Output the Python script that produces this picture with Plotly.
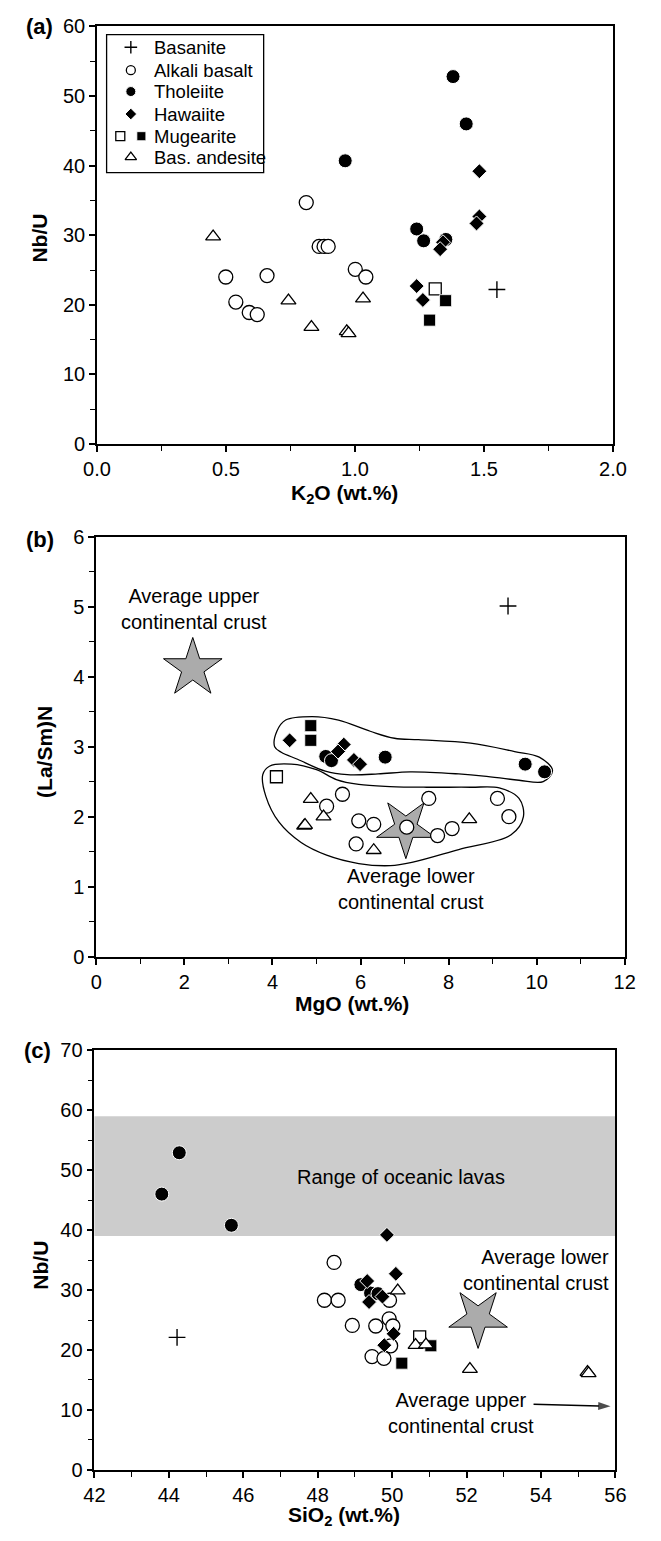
import plotly.graph_objects as go

W, H = 661, 1541

# ---------------- Panel (a): K2O vs Nb/U ----------------
A_BASANITE_X = [1.55]
A_BASANITE_Y = [22.2]
A_ALKALI_X = [0.811, 0.499, 0.538, 0.590, 0.621, 0.659, 0.861, 0.880, 0.896, 1.001, 1.042]
A_ALKALI_Y = [34.7, 24.0, 20.4, 18.9, 18.6, 24.2, 28.4, 28.4, 28.4, 25.1, 24.0]
A_THOL_X = [1.380, 1.431, 0.962, 1.239, 1.266, 1.352]
A_THOL_Y = [52.8, 46.0, 40.7, 30.9, 29.2, 29.4]
A_HAW_X = [1.482, 1.482, 1.471, 1.341, 1.330, 1.239, 1.263]
A_HAW_Y = [39.2, 32.7, 31.7, 29.0, 28.0, 22.7, 20.7]
A_MUG_OPEN_X = [1.311]
A_MUG_OPEN_Y = [22.3]
A_MUG_FILL_X = [1.351, 1.289]
A_MUG_FILL_Y = [20.6, 17.8]
A_BASAND_X = [0.450, 0.742, 0.831, 0.968, 0.975, 1.031]
A_BASAND_Y = [29.8, 20.6, 16.8, 16.2, 15.9, 20.9]

# ---------------- Panel (b): MgO vs (La/Sm)N ----------------
B_BASANITE_X = [9.35]
B_BASANITE_Y = [5.01]
B_ALKALI_X = [5.23, 5.59, 5.96, 5.90, 6.30, 7.05, 7.55, 7.75, 8.08, 9.11, 9.37]
B_ALKALI_Y = [2.15, 2.32, 1.94, 1.61, 1.89, 1.85, 2.26, 1.73, 1.83, 2.26, 2.00]
B_THOL_X = [5.21, 5.34, 6.56, 9.74, 10.18]
B_THOL_Y = [2.86, 2.80, 2.85, 2.75, 2.64]
B_HAW_X = [4.39, 5.62, 5.49, 5.85, 5.99]
B_HAW_Y = [3.09, 3.03, 2.93, 2.81, 2.75]
B_MUG_OPEN_X = [4.09]
B_MUG_OPEN_Y = [2.57]
B_MUG_FILL_X = [4.87, 4.87]
B_MUG_FILL_Y = [3.30, 3.09]
B_BASAND_X = [4.87, 5.16, 4.72, 4.74, 6.30, 8.47]
B_BASAND_Y = [2.25, 2.00, 1.87, 1.88, 1.52, 1.96]
B_UPPER_CRUST = (2.19, 4.12)
B_LOWER_CRUST = (7.03, 1.84)
# grouping outlines
B_LOOP1_X = [4.05, 4.10, 4.30, 4.90, 5.50, 6.22, 6.77, 7.32, 8.50, 9.50, 10.06, 10.36,
             10.15, 9.60, 8.80, 8.23, 7.13, 6.40, 5.70, 5.20, 4.57, 4.20, 4.05]
B_LOOP1_Y = [3.00, 3.22, 3.38, 3.43, 3.38, 3.22, 3.12, 3.10, 3.05, 2.93, 2.85, 2.66,
             2.50, 2.52, 2.58, 2.61, 2.64, 2.61, 2.60, 2.65, 2.82, 2.92, 3.00]
B_LOOP2_X = [3.93, 4.43, 5.00, 5.45, 5.96, 6.67, 7.50, 8.50, 9.15, 9.60, 9.70, 9.42,
             8.23, 7.19, 6.68, 5.96, 5.23, 4.65, 4.15, 3.85, 3.78, 3.93]
B_LOOP2_Y = [2.72, 2.75, 2.67, 2.53, 2.46, 2.43, 2.42, 2.42, 2.41, 2.26, 2.00, 1.74,
             1.53, 1.35, 1.30, 1.33, 1.45, 1.63, 1.92, 2.29, 2.60, 2.72]

# ---------------- Panel (c): SiO2 vs Nb/U ----------------
C_BASANITE_X = [44.22]
C_BASANITE_Y = [22.1]
C_ALKALI_X = [48.44, 48.18, 48.55, 49.93, 48.93, 49.56, 49.92, 50.02, 49.96, 49.46, 49.78]
C_ALKALI_Y = [34.6, 28.3, 28.3, 28.3, 24.1, 24.0, 25.2, 24.0, 20.7, 18.9, 18.6]
C_THOL_X = [44.28, 43.81, 45.68, 49.16, 49.42, 49.62]
C_THOL_Y = [52.9, 46.0, 40.8, 30.9, 29.5, 29.4]
C_HAW_X = [49.86, 50.10, 49.33, 49.74, 49.38, 50.04, 49.79]
C_HAW_Y = [39.2, 32.7, 31.5, 28.9, 28.0, 22.7, 20.8]
C_MUG_OPEN_X = [50.74]
C_MUG_OPEN_Y = [22.2]
C_MUG_FILL_X = [51.04, 50.26]
C_MUG_FILL_Y = [20.7, 17.8]
C_BASAND_X = [50.15, 50.63, 50.91, 52.09, 55.25, 55.28]
C_BASAND_Y = [29.9, 20.8, 20.9, 16.8, 16.3, 16.1]
C_LOWER_CRUST = (52.31, 25.4)
C_OCEANIC_RANGE = (39.0, 59.0)
C_ARROW_X = [53.80, 55.87]
C_ARROW_Y = [10.96, 10.60]

LEGEND_LABELS = ["Basanite", "Alkali basalt", "Tholeiite", "Hawaiite", "Mugearite", "Bas. andesite"]

FONT = "Liberation Sans, Arial, Helvetica, sans-serif"
TICK_SIZE = 20
TITLE_SIZE = 21
NOTE_SIZE = 20

def py(px):
    return (H - px) / H

def px_x(px):
    return px / W

# marker styles
STY = {
    "bas": dict(symbol="cross-thin", size=12, color="black", line=dict(color="black", width=1.4)),
    "alk": dict(symbol="circle", size=14, color="white", line=dict(color="black", width=1.3)),
    "thol": dict(symbol="circle", size=14, color="black", line=dict(color="white", width=1)),
    "haw": dict(symbol="diamond", size=11.5, color="black", line=dict(color="white", width=1)),
    "mugo": dict(symbol="square", size=12, color="white", line=dict(color="black", width=1.3)),
    "mugf": dict(symbol="square", size=12, color="black", line=dict(color="white", width=0.8)),
    "and": dict(symbol="triangle-up", size=13, color="white", line=dict(color="black", width=1.3)),
}

fig = go.Figure()

def add_pts(xs, ys, key, xa, ya):
    fig.add_trace(go.Scatter(x=xs, y=ys, mode="markers", marker=STY[key],
                             xaxis=xa, yaxis=ya, showlegend=False, hoverinfo="skip"))

def add_star(pt, angle, xa, ya):
    fig.add_trace(go.Scatter(x=[pt[0]], y=[pt[1]], mode="markers",
                             marker=dict(symbol="star", size=44, color="#ababab", angle=angle,
                                         line=dict(color="black", width=1)),
                             xaxis=xa, yaxis=ya, showlegend=False, hoverinfo="skip"))

# panel a
for xs, ys, k in [(A_BASANITE_X, A_BASANITE_Y, "bas"), (A_ALKALI_X, A_ALKALI_Y, "alk"),
                  (A_THOL_X, A_THOL_Y, "thol"), (A_HAW_X, A_HAW_Y, "haw"),
                  (A_MUG_OPEN_X, A_MUG_OPEN_Y, "mugo"), (A_MUG_FILL_X, A_MUG_FILL_Y, "mugf"),
                  (A_BASAND_X, A_BASAND_Y, "and")]:
    add_pts(xs, ys, k, "x", "y")

# panel b
add_star(B_UPPER_CRUST, 0, "x2", "y2")
add_star(B_LOWER_CRUST, 180, "x2", "y2")
for lx, ly in [(B_LOOP1_X, B_LOOP1_Y), (B_LOOP2_X, B_LOOP2_Y)]:
    fig.add_trace(go.Scatter(x=lx, y=ly, mode="lines",
                             line=dict(color="black", width=1.3, shape="spline", smoothing=1.0),
                             xaxis="x2", yaxis="y2", showlegend=False, hoverinfo="skip"))
for xs, ys, k in [(B_BASANITE_X, B_BASANITE_Y, "bas"), (B_ALKALI_X, B_ALKALI_Y, "alk"),
                  (B_THOL_X, B_THOL_Y, "thol"), (B_HAW_X, B_HAW_Y, "haw"),
                  (B_MUG_OPEN_X, B_MUG_OPEN_Y, "mugo"), (B_MUG_FILL_X, B_MUG_FILL_Y, "mugf"),
                  (B_BASAND_X, B_BASAND_Y, "and")]:
    add_pts(xs, ys, k, "x2", "y2")

# panel c
add_star(C_LOWER_CRUST, 180, "x3", "y3")
for xs, ys, k in [(C_BASANITE_X, C_BASANITE_Y, "bas"), (C_ALKALI_X, C_ALKALI_Y, "alk"),
                  (C_THOL_X, C_THOL_Y, "thol"), (C_HAW_X, C_HAW_Y, "haw"),
                  (C_MUG_OPEN_X, C_MUG_OPEN_Y, "mugo"), (C_MUG_FILL_X, C_MUG_FILL_Y, "mugf"),
                  (C_BASAND_X, C_BASAND_Y, "and")]:
    add_pts(xs, ys, k, "x3", "y3")
# arrow pointing to the (off-scale) upper continental crust
fig.add_trace(go.Scatter(x=C_ARROW_X, y=C_ARROW_Y, mode="lines+markers",
                         line=dict(color="black", width=1.5),
                         marker=dict(symbol=["circle", "arrow"], size=[0, 13], color="black",
                                     angleref="previous", line=dict(width=0)),
                         xaxis="x3", yaxis="y3", showlegend=False, hoverinfo="skip"))

# ---------------- legend (manual, pixel-unit overlay axis) ----------------
LEG_BOX = (96.7, 260.7, 24, 164)   # left, right, top, bottom in px
LEG_ROWS = [36.7, 60.0, 81.7, 104.5, 127.0, 148.3]
LEG_SYM_X = 122
LEG_KEYS = ["bas", "alk", "thol", "haw", "mugo", "and"]
for i, k in enumerate(LEG_KEYS):
    st = dict(STY[k])
    st["size"] = {"bas": 9, "alk": 9, "thol": 10, "haw": 9, "mugo": 9, "and": 10}[k]
    sx = [LEG_SYM_X] if k != "mugo" else [111]
    fig.add_trace(go.Scatter(x=sx, y=[LEG_ROWS[i]], mode="markers", marker=st,
                             xaxis="x4", yaxis="y4", showlegend=False, hoverinfo="skip"))
stf = dict(STY["mugf"]); stf["size"] = 9
fig.add_trace(go.Scatter(x=[133], y=[LEG_ROWS[4]], mode="markers", marker=stf,
                         xaxis="x4", yaxis="y4", showlegend=False, hoverinfo="skip"))

annotations = []
for i, lab in enumerate(LEGEND_LABELS):
    annotations.append(dict(x=144, y=LEG_ROWS[i], xref="x4", yref="y4", text=lab,
                            showarrow=False, xanchor="left", yanchor="middle",
                            font=dict(size=18.5, color="black")))

# ---------------- axes ----------------
def axis(domain, rng, dtick, minor, anchor, fmt=None):
    d = dict(domain=domain, range=rng, dtick=dtick, tick0=rng[0], showgrid=False, zeroline=False,
             showline=True, linecolor="black", linewidth=1.8, mirror=True,
             ticks="outside", ticklen=6, tickwidth=1.5, tickcolor="black",
             tickfont=dict(size=TICK_SIZE, color="black"), anchor=anchor,
             minor=dict(dtick=minor, ticks="outside", ticklen=5, tickwidth=1.3, tickcolor="black", showgrid=False))
    if fmt:
        d["tickformat"] = fmt
    return d

def inner_ticks(domain, rng, dtick, anchor, overlay):
    # inner half of the major ticks (the reference's major ticks cross the axis line)
    return dict(domain=domain, range=rng, dtick=dtick, tick0=rng[0], showgrid=False,
                zeroline=False, showline=False, ticks="inside", ticklen=6, tickwidth=1.5,
                tickcolor="black", showticklabels=False, anchor=anchor, overlaying=overlay)

A_DOM_X = [86.7 / W, 625.5 / W]
A_DOM_Y = [py(439.3), py(15.7)]
B_DOM_X = [86.0 / W, 637.7 / W]
B_DOM_Y = [py(959.3), py(533.3)]
C_DOM_X = [84.0 / W, 628.0 / W]
C_DOM_Y = [py(1480.0), py(1054.3)]

layout = dict(
    width=W, height=H, margin=dict(l=0, r=0, t=0, b=0),
    paper_bgcolor="white", plot_bgcolor="white",
    font=dict(family=FONT, color="black", size=18),
    xaxis=axis(A_DOM_X, [0, 2], 0.5, 0.25, "y", ".1f"),
    yaxis=axis(A_DOM_Y, [0, 60], 10, 5, "x"),
    xaxis2=axis(B_DOM_X, [0, 12], 2, 1, "y2"),
    yaxis2=axis(B_DOM_Y, [0, 6], 1, 0.5, "x2"),
    xaxis3=axis(C_DOM_X, [42, 56], 2, 1, "y3"),
    yaxis3=axis(C_DOM_Y, [0, 70], 10, 5, "x3"),
    xaxis4=dict(domain=[LEG_BOX[0] / W, LEG_BOX[1] / W], range=[LEG_BOX[0], LEG_BOX[1]],
                visible=False, anchor="y4"),
    yaxis4=dict(domain=[py(LEG_BOX[3]), py(LEG_BOX[2])], range=[LEG_BOX[3], LEG_BOX[2]],
                visible=False, anchor="x4"),
    xaxis5=inner_ticks(A_DOM_X, [0, 2], 0.5, "y", "x"),
    yaxis5=inner_ticks(A_DOM_Y, [0, 60], 10, "x", "y"),
    xaxis6=inner_ticks(B_DOM_X, [0, 12], 2, "y2", "x2"),
    yaxis6=inner_ticks(B_DOM_Y, [0, 6], 1, "x2", "y2"),
    xaxis7=inner_ticks(C_DOM_X, [42, 56], 2, "y3", "x3"),
    yaxis7=inner_ticks(C_DOM_Y, [0, 70], 10, "x3", "y3"),
    showlegend=False,
)

shapes = [
    dict(type="rect", xref="paper", yref="paper", x0=LEG_BOX[0] / W, x1=LEG_BOX[1] / W,
         y0=py(LEG_BOX[3]), y1=py(LEG_BOX[2]), line=dict(color="black", width=1.3)),
    dict(type="rect", xref="x3 domain", yref="y3", x0=0, x1=1,
         y0=C_OCEANIC_RANGE[0], y1=C_OCEANIC_RANGE[1], fillcolor="#cccccc",
         line=dict(width=0), layer="below"),
]

def ptitle(text, x, y, angle=0, size=TITLE_SIZE):
    return dict(x=x, y=y, xref="paper", yref="paper", text=text, showarrow=False,
                textangle=angle, xanchor="center", yanchor="middle",
                font=dict(size=size, color="black"))

annotations += [
    ptitle("<b>(a)</b>", px_x(26.5), py(15.7), size=22),
    ptitle("<b>(b)</b>", px_x(26.7), py(536.0), size=22),
    ptitle("<b>(c)</b>", px_x(24.7), py(1054.3), size=22),
    ptitle("<b>Nb/U</b>", px_x(27), py(230), -90),
    ptitle("<b>K<sub>2</sub>O (wt.%)</b>", px_x(345), py(490)),
    ptitle("<b>(La/Sm)N</b>", px_x(32), py(752), -90),
    ptitle("<b>MgO (wt.%)</b>", px_x(353), py(1007)),
    ptitle("<b>Nb/U</b>", px_x(28), py(1272), -90),
    ptitle("<b>SiO<sub>2</sub> (wt.%)</b>", px_x(345), py(1527)),
    dict(x=2.22, y=4.96, xref="x2", yref="y2", text="Average upper<br>continental crust",
         showarrow=False, font=dict(size=NOTE_SIZE)),
    dict(x=7.14, y=0.97, xref="x2", yref="y2", text="Average lower<br>continental crust",
         showarrow=False, font=dict(size=NOTE_SIZE)),
    dict(x=50.25, y=48.8, xref="x3", yref="y3", text="Range of oceanic lavas",
         showarrow=False, font=dict(size=NOTE_SIZE)),
    dict(x=55.87, y=33.4, xref="x3", yref="y3", text="Average lower<br>continental crust",
         showarrow=False, xanchor="right", align="right", font=dict(size=NOTE_SIZE)),
    dict(x=51.84, y=9.5, xref="x3", yref="y3", text="Average upper<br>continental crust",
         showarrow=False, font=dict(size=NOTE_SIZE)),
]

layout["shapes"] = shapes
layout["annotations"] = annotations
fig.update_layout(**layout)
fig.write_html("out.html", config={"displayModeBar": False},
               post_script="document.body.style.margin='0';document.body.style.overflow='hidden';")
